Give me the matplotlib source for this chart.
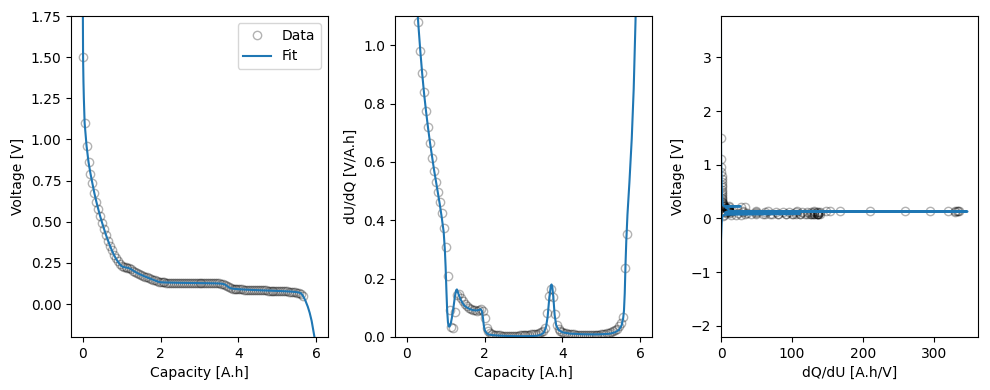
import matplotlib
matplotlib.use("Agg")
import matplotlib.pyplot as plt
import numpy as np

# ---- measured data (capacity grid, voltage, dU/dQ) ----
capacity_data = [
    0.00, 0.05, 0.10, 0.15, 0.20, 0.25, 0.30, 0.35, 0.40, 0.45,
    0.50, 0.55, 0.60, 0.65, 0.70, 0.75, 0.80, 0.85, 0.90, 0.95,
    1.00, 1.05, 1.10, 1.15, 1.20, 1.25, 1.30, 1.35, 1.40, 1.45,
    1.50, 1.55, 1.60, 1.65, 1.70, 1.75, 1.80, 1.85, 1.90, 1.95,
    2.00, 2.05, 2.10, 2.15, 2.20, 2.25, 2.30, 2.35, 2.40, 2.45,
    2.50, 2.55, 2.60, 2.65, 2.70, 2.75, 2.80, 2.85, 2.90, 2.95,
    3.00, 3.05, 3.10, 3.15, 3.20, 3.25, 3.30, 3.35, 3.40, 3.45,
    3.50, 3.55, 3.60, 3.65, 3.70, 3.75, 3.80, 3.85, 3.90, 3.95,
    4.00, 4.05, 4.10, 4.15, 4.20, 4.25, 4.30, 4.35, 4.40, 4.45,
    4.50, 4.55, 4.60, 4.65, 4.70, 4.75, 4.80, 4.85, 4.90, 4.95,
    5.00, 5.05, 5.10, 5.15, 5.20, 5.25, 5.30, 5.35, 5.40, 5.45,
    5.50, 5.55, 5.60, 5.65]

voltage_data = [
    1.500, 1.100, 0.960, 0.862, 0.793, 0.733, 0.674, 0.623, 0.577, 0.533,
    0.493, 0.455, 0.419, 0.386, 0.355, 0.326, 0.300, 0.278, 0.259, 0.243,
    0.231, 0.226, 0.2228, 0.2208, 0.2170, 0.2110, 0.2030, 0.1955, 0.1889, 0.1829,
    0.1774, 0.1722, 0.1673, 0.1625, 0.1578, 0.1532, 0.1487, 0.1441, 0.1395, 0.1355,
    0.1330, 0.1319, 0.1314, 0.1310, 0.1306, 0.1303, 0.1300, 0.1298, 0.1295, 0.1293,
    0.1291, 0.1289, 0.1287, 0.1285, 0.1284, 0.1282, 0.1281, 0.1279, 0.1278, 0.1276,
    0.1275, 0.1273, 0.1272, 0.1270, 0.1269, 0.1267, 0.1265, 0.1263, 0.1260, 0.1257,
    0.1252, 0.1240, 0.1222, 0.1180, 0.1112, 0.1030, 0.0965, 0.0940, 0.0923, 0.0912,
    0.0903, 0.0896, 0.0889, 0.0883, 0.0876, 0.0871, 0.0866, 0.0861, 0.0856, 0.0851,
    0.0846, 0.0842, 0.0837, 0.0833, 0.0828, 0.0824, 0.0819, 0.0815, 0.0810, 0.0806,
    0.0801, 0.0796, 0.0791, 0.0785, 0.0778, 0.0770, 0.0761, 0.0750, 0.0737, 0.0720,
    0.0699, 0.0670, 0.0620, 0.0510]

dudq_data = [
    8.0, 5.4, 2.4, 1.7, 1.35, 1.2, 1.08, 0.98, 0.905, 0.84,
    0.775, 0.72, 0.665, 0.615, 0.57, 0.53, 0.497, 0.463, 0.424, 0.372,
    0.31, 0.208, 0.092, 0.035, 0.030, 0.085, 0.145, 0.148, 0.135, 0.123,
    0.113, 0.106, 0.100, 0.096, 0.093, 0.091, 0.090, 0.092, 0.095, 0.088,
    0.066, 0.032, 0.020, 0.015, 0.0093, 0.0076, 0.00676, 0.00654, 0.00595, 0.00478,
    0.00385, 0.0034, 0.00313, 0.00304, 0.0030, 0.00298, 0.00301, 0.00303, 0.0072, 0.0073,
    0.0074, 0.0076, 0.0079, 0.0083, 0.0088, 0.0095, 0.0104, 0.0115, 0.0130, 0.0160,
    0.020, 0.032, 0.083, 0.140, 0.163, 0.138, 0.080, 0.042, 0.027, 0.020,
    0.016, 0.014, 0.0125, 0.011, 0.010, 0.0095, 0.009, 0.0085, 0.008, 0.0078,
    0.0076, 0.0074, 0.0073, 0.0073, 0.0072, 0.0073, 0.0074, 0.0076, 0.0079, 0.0083,
    0.009, 0.0098, 0.011, 0.0125, 0.0145, 0.017, 0.020, 0.024, 0.029, 0.036,
    0.048, 0.068, 0.237, 0.352]

# ---- fitted model ----
capacity_fit = [
    0.0, 0.004, 0.01, 0.02, 0.03, 0.05, 0.1, 0.15, 0.2, 0.25,
    0.3, 0.35, 0.4, 0.45, 0.5, 0.55, 0.6, 0.65, 0.7, 0.75,
    0.8, 0.85, 0.9, 0.95, 0.98, 1.0, 1.02, 1.04, 1.06, 1.08,
    1.1, 1.13, 1.16, 1.2, 1.24, 1.27, 1.29, 1.31, 1.35, 1.4,
    1.45, 1.5, 1.6, 1.7, 1.8, 1.86, 1.9, 1.93, 1.96, 1.98,
    2.0, 2.05, 2.1, 2.2, 2.4, 2.6, 2.8, 3.0, 3.2, 3.35,
    3.45, 3.52, 3.58, 3.62, 3.66, 3.7, 3.72, 3.74, 3.77, 3.8,
    3.84, 3.9, 4.0, 4.2, 4.5, 4.8, 5.0, 5.2, 5.35, 5.45,
    5.52, 5.56, 5.58, 5.6, 5.62, 5.64, 5.67, 5.72, 5.78, 5.83,
    5.88, 5.95, 5.98, 6.0]

voltage_fit = [
    3.50, 1.80, 1.50, 1.35, 1.25, 1.10, 0.96, 0.862, 0.793, 0.733,
    0.674, 0.623, 0.577, 0.533, 0.493, 0.455, 0.419, 0.386, 0.355, 0.326,
    0.300, 0.278, 0.259, 0.243, 0.235, 0.231, 0.228, 0.226, 0.2245, 0.2235,
    0.2228, 0.2216, 0.2200, 0.2170, 0.2123, 0.2077, 0.2045, 0.2013, 0.1955, 0.1889,
    0.1829, 0.1774, 0.1673, 0.1578, 0.1487, 0.1432, 0.1395, 0.1367, 0.1344, 0.1334,
    0.1328, 0.1319, 0.1314, 0.1306, 0.1295, 0.1287, 0.1281, 0.1275, 0.1269, 0.1263,
    0.1257, 0.1249, 0.1234, 0.1213, 0.1173, 0.1112, 0.1076, 0.1041, 0.0996, 0.0965,
    0.0942, 0.0923, 0.0903, 0.0875, 0.0844, 0.0816, 0.0798, 0.0778, 0.0758, 0.0738,
    0.0716, 0.0695, 0.0680, 0.0656, 0.0616, 0.0558, 0.0446, 0.0208, -0.0152, -0.0535,
    -0.1023, -0.1968, -0.40, -1.94]

dudq_fit = [
    400, 60, 25, 12, 7, 4.5, 2.3, 1.65, 1.35, 1.17,
    1.07, 0.98, 0.90, 0.83, 0.77, 0.715, 0.665, 0.62, 0.575, 0.535,
    0.495, 0.455, 0.41, 0.36, 0.30, 0.24, 0.16, 0.09, 0.05, 0.036,
    0.036, 0.045, 0.065, 0.10, 0.14, 0.16, 0.163, 0.155, 0.14, 0.125,
    0.113, 0.105, 0.097, 0.092, 0.091, 0.093, 0.095, 0.09, 0.065, 0.04,
    0.025, 0.013, 0.009, 0.0065, 0.0045, 0.0035, 0.003, 0.00288, 0.0032, 0.0045,
    0.008, 0.015, 0.035, 0.07, 0.13, 0.175, 0.18, 0.172, 0.13, 0.075,
    0.04, 0.024, 0.016, 0.0115, 0.0095, 0.009, 0.0095, 0.011, 0.016, 0.024,
    0.04, 0.065, 0.09, 0.15, 0.25, 0.33, 0.42, 0.53, 0.68, 0.85,
    1.10, 1.6, 12, 100]

q_d = np.array(capacity_data)
v_d = np.array(voltage_data)
g_d = np.array(dudq_data)
q_f = np.array(capacity_fit)
v_f = np.array(voltage_fit)
g_f = np.array(dudq_fit)

fig = plt.figure(figsize=(9.9, 3.9), dpi=100)
W, H = 990.0, 390.0
top, bot = 16, 337
def pos(l, r):
    return [l / W, 1 - bot / H, (r - l) / W, (bot - top) / H]

ax1 = fig.add_axes(pos(71, 328))
ax2 = fig.add_axes(pos(395, 652))
ax3 = fig.add_axes(pos(721, 978))

data_kw = dict(marker='o', linestyle='none', mfc='none', color='k', alpha=0.3)

ax1.plot(q_d, v_d, label='Data', **data_kw)
ax1.plot(q_f, v_f, color='C0', label='Fit')
ax1.set_xlim(-0.3, 6.3)
ax1.set_ylim(-0.2, 1.75)
ax1.set_xlabel('Capacity [A.h]')
ax1.set_ylabel('Voltage [V]')
ax1.legend(loc='upper right')

ax2.plot(q_d, g_d, **data_kw)
ax2.plot(q_f, g_f, color='C0')
ax2.set_xlim(-0.3, 6.3)
ax2.set_ylim(0, 1.1)
ax2.set_xlabel('Capacity [A.h]')
ax2.set_ylabel('dU/dQ [V/A.h]')

ax3.plot(1.0 / g_d, v_d, **data_kw)
ax3.plot(1.0 / g_f, v_f, color='C0')
ax3.set_xlim(0, 362)
ax3.set_ylim(-2.21, 3.77)
ax3.set_xlabel('dQ/dU [A.h/V]')
ax3.set_ylabel('Voltage [V]')

fig.savefig('out.png', dpi=100)
